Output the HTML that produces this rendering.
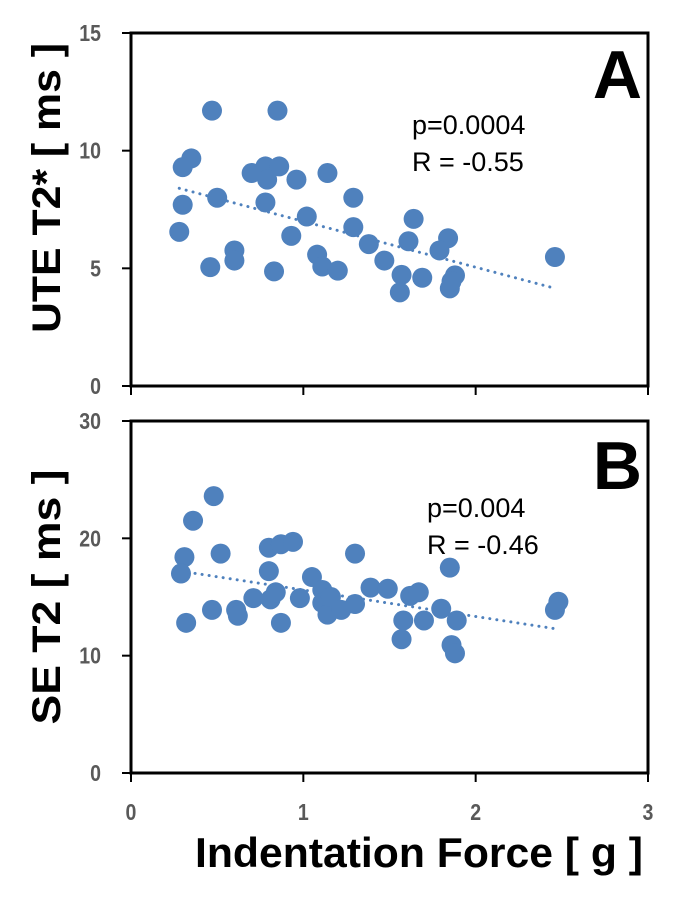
<!DOCTYPE html>
<html><head><meta charset="utf-8"><style>
html,body{margin:0;padding:0;background:#fff;}
svg{display:block;font-family:"Liberation Sans",Arial,sans-serif;}
</style></head><body>
<svg id="chart" width="691" height="898" viewBox="0 0 691 898" xmlns="http://www.w3.org/2000/svg"></svg>
<script>
const xTicks = [0, 1, 2, 3];
const aTicks = [0, 5, 10, 15];
const bTicks = [0, 10, 20, 30];
const aForce = [0.47,0.85,0.35,0.30,0.70,0.78,0.86,0.79,0.96,1.14,0.30,0.50,0.78,1.29,1.02,0.28,0.93,1.29,1.38,1.64,1.61,1.84,1.79,2.46,0.60,0.60,0.46,0.83,1.08,1.11,1.20,1.47,1.57,1.69,1.56,1.88,1.85,1.86];
const aT2star = [11.7,11.7,9.67,9.3,9.05,9.33,9.33,8.77,8.77,9.05,7.7,8.0,7.8,8.0,7.2,6.55,6.38,6.75,6.03,7.1,6.15,6.28,5.76,5.48,5.76,5.33,5.05,4.87,5.58,5.08,4.9,5.33,4.72,4.6,3.98,4.7,4.15,4.45];
const bForce = [0.48,0.36,0.31,0.29,0.52,0.80,0.87,0.94,1.30,0.80,1.05,1.85,0.32,0.47,0.61,0.62,0.71,0.81,0.84,0.87,0.98,1.11,1.11,1.14,1.16,1.22,1.30,1.39,1.49,1.62,1.67,1.58,1.70,1.57,1.80,1.89,1.86,1.88,2.46,2.48];
const bT2 = [23.6,21.5,18.4,17.0,18.7,19.2,19.5,19.7,18.7,17.2,16.7,17.5,12.8,13.9,13.9,13.4,14.9,14.8,15.4,12.8,14.9,15.6,14.5,13.5,15.0,13.9,14.4,15.8,15.7,15.1,15.4,13.0,13.0,11.4,14.0,13.0,10.9,10.2,13.9,14.6];
const aTrend = [[0.28, 8.4], [2.46, 4.15]];
const bTrend = [[0.29, 17.2], [2.46, 12.3]];

const NS = "http://www.w3.org/2000/svg";
const svg = document.getElementById('chart');
const X0 = 131, X1 = 648;
const xs = v => X0 + (v - 0) / 3 * (X1 - X0);
function mk(tag, attrs, parent) {
  const e = document.createElementNS(NS, tag);
  for (const k in attrs) e.setAttribute(k, attrs[k]);
  (parent || svg).appendChild(e);
  return e;
}
function panel(name, top, bottom, ymax, ticks, xv, yv, trend, letter, p, r, ylabel, ylabelY, ylabelLen, statX) {
  const ys = v => bottom - v / ymax * (bottom - top);
  const g = mk('g', {});
  
  
  const frame = mk('rect', {x: X0, y: top, width: X1 - X0, height: bottom - top, fill: 'none', stroke: '#000', 'stroke-width': 3}, g);
  
  
  ticks.forEach(t => {
    const tl = mk('line', {x1: X0 - 9, x2: X0, y1: ys(t), y2: ys(t), stroke: '#000', 'stroke-width': 2}, g);
    
    
    const tx = mk('text', {x: 0, y: 0, transform: 'translate(101,' + (ys(t) + 8) + ') scale(0.85,1)', 'text-anchor': 'end', 'font-size': 23, 'font-weight': 'bold', fill: '#595959'}, g);
    tx.textContent = t;
    
    
  });
  xTicks.forEach(t => {
    const tl = mk('line', {x1: xs(t), x2: xs(t), y1: bottom, y2: bottom + 9, stroke: '#000', 'stroke-width': 2}, g);
    
    
  });
  const tr = mk('line', {x1: xs(trend[0][0]), y1: ys(trend[0][1]), x2: xs(trend[1][0]), y2: ys(trend[1][1]), stroke: '#4f81bd', 'stroke-width': 3, 'stroke-dasharray': '0.1 7', 'stroke-linecap': 'round'}, g);
  
  
  xv.forEach((v, i) => {
    const c = mk('circle', {cx: xs(v), cy: ys(yv[i]), r: 10, fill: '#4f81bd'}, g);
    
    
  });
  const L = mk('text', {x: 642, y: top + (name === 'a' ? 65 : 68), 'text-anchor': 'end', 'font-size': 68, 'font-weight': 'bold', fill: '#000'}, g);
  L.textContent = letter;
  
  
  const pt = mk('text', {x: statX, y: top + (name === 'a' ? 101 : 96), 'font-size': 27, fill: '#000'}, g);
  pt.textContent = p;
  
  
  const rt = mk('text', {x: statX, y: top + (name === 'a' ? 138 : 133), 'font-size': 27, fill: '#000'}, g);
  rt.textContent = r;
  
  
  const yl = mk('text', {x: 0, y: 0, transform: 'translate(60,' + ylabelY + ') rotate(-90)', 'text-anchor': 'middle', 'font-size': 40, 'font-weight': 'bold', fill: '#000', textLength: ylabelLen, lengthAdjust: 'spacingAndGlyphs', 'xml:space': 'preserve'}, g);
  yl.textContent = ylabel;
  
  
}
panel('a', 33, 386, 15, aTicks, aForce, aT2star, aTrend, 'A', 'p=0.0004', 'R = -0.55', 'UTE T2*  [ ms ]', 188, 290, 412);
panel('b', 421, 773, 30, bTicks, bForce, bT2, bTrend, 'B', 'p=0.004', 'R = -0.46', 'SE T2  [ ms ]', 597, 255, 427);
xTicks.forEach(t => {
  const tx = mk('text', {x: 0, y: 0, transform: 'translate(' + xs(t) + ',820) scale(0.85,1)', 'text-anchor': 'middle', 'font-size': 23, 'font-weight': 'bold', fill: '#595959'});
  tx.textContent = t;
  
  
});
const xl = mk('text', {x: 195, y: 867, 'font-size': 42, 'font-weight': 'bold', fill: '#000', textLength: 448, lengthAdjust: 'spacingAndGlyphs', 'xml:space': 'preserve'});
xl.textContent = 'Indentation Force  [ g ]';


</script>
</body></html>
